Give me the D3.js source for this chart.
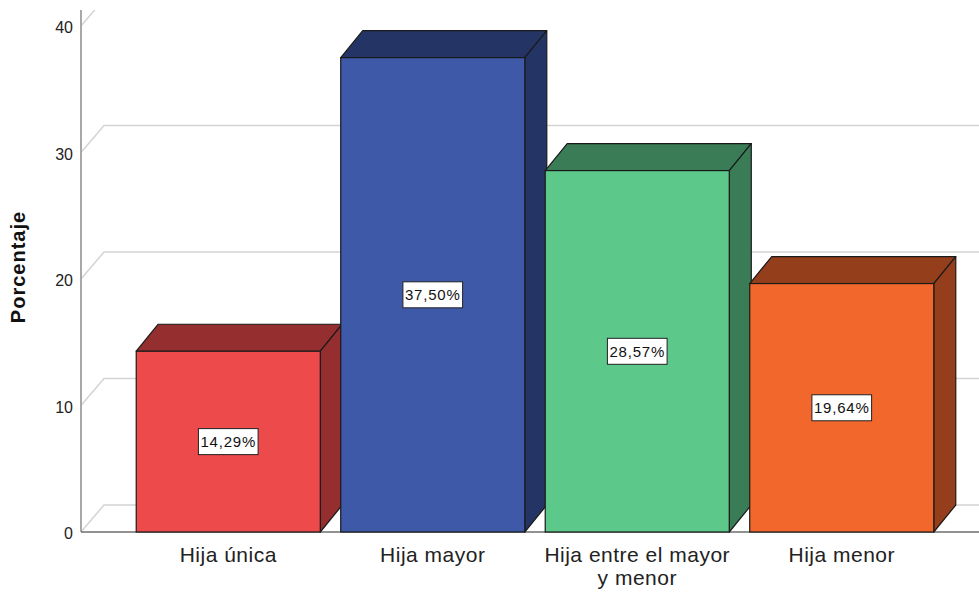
<!DOCTYPE html>
<html lang="es">
<head>
<meta charset="utf-8">
<title>Porcentaje por posición de hija</title>
<style>
  body { margin: 0; background: #fff; font-family: "Liberation Sans", Arial, sans-serif; }
  svg { display: block; }
</style>
</head>
<body>
<script src="https://d3js.org/d3.v7.min.js"></script>
<script>
// chart data
var categories = ["Hija única", "Hija mayor", "Hija entre el mayor y menor", "Hija menor"];
var labelLines = [["Hija única"], ["Hija mayor"], ["Hija entre el mayor", "y menor"], ["Hija menor"]];
var values = [14.29, 37.50, 28.57, 19.64];
var valueLabels = ["14,29%", "37,50%", "28,57%", "19,64%"];
var yTicks = [0, 10, 20, 30, 40];
var frontColors = ["#ec4a4b", "#3d59a7", "#5cc98b", "#f2672b"];
var sideColors = ["#942e2f", "#243565", "#397c55", "#953e1b"];

var w = 979, h = 593;
var axisX = 81, baseY = 532, topClip = 10;
var dx = 22, dy = -27; // depth offset of the 3D effect

var svg = d3.select("body").append("svg")
    .attr("width", w)
    .attr("height", h);

var x = d3.scaleBand()
    .domain(categories)
    .range([126, 944])
    .paddingInner(0.1)
    .paddingOuter(0.05);

var y = d3.scaleLinear()
    .domain([0, 40])
    .range([baseY, 26]);

svg.append("clipPath").attr("id", "plotClip")
  .append("rect")
    .attr("x", axisX).attr("y", topClip)
    .attr("width", w - axisX).attr("height", h);

// back wall grid lines with diagonal to the axis
var grid = svg.append("g").attr("clip-path", "url(#plotClip)");
grid.selectAll("path.grid")
  .data(yTicks)
  .enter().append("path")
    .attr("class", "grid")
    .attr("fill", "none")
    .attr("stroke", "#d4d4d4")
    .attr("stroke-width", 1.5)
    .attr("d", function(d) {
        var yy = y(d);
        return "M" + axisX + "," + yy + "L" + (axisX + dx + 1) + "," + (yy + dy) + "L" + w + "," + (yy + dy);
    });

// y axis line
svg.append("line")
    .attr("x1", axisX).attr("x2", axisX)
    .attr("y1", topClip).attr("y2", baseY)
    .attr("stroke", "#a8a8a8")
    .attr("stroke-width", 2);

// baseline
svg.append("line")
    .attr("x1", axisX).attr("x2", w)
    .attr("y1", baseY).attr("y2", baseY)
    .attr("stroke", "#6e6e6e")
    .attr("stroke-width", 1.5);

// y tick labels
svg.append("g").selectAll("text")
  .data(yTicks)
  .enter().append("text")
    .attr("x", 73)
    .attr("y", function(d) { return y(d) + 3; })
    .attr("text-anchor", "end")
    .attr("dominant-baseline", "middle")
    .attr("font-size", 16)
    .attr("fill", "#222")
    .text(function(d) { return d; });

// y axis title
svg.append("text")
    .attr("transform", "translate(25,267) rotate(-90)")
    .attr("text-anchor", "middle")
    .attr("font-size", 20)
    .attr("font-weight", "bold")
    .attr("letter-spacing", 1)
    .attr("fill", "#111")
    .text("Porcentaje");

// bars
var bars = svg.append("g").selectAll("g.bar")
  .data(values)
  .enter().append("g")
    .attr("class", "bar");

bars.append("path")  // top face
    .attr("fill", function(d, i) { return sideColors[i]; })
    .attr("stroke", "#1a1a1a")
    .attr("stroke-width", 1.2)
    .attr("stroke-linejoin", "round")
    .attr("d", function(d, i) {
        var x0 = x(categories[i]), x1 = x0 + x.bandwidth(), t = y(d);
        return "M" + x0 + "," + t + "L" + (x0 + dx) + "," + (t + dy) + "L" + (x1 + dx) + "," + (t + dy) + "L" + x1 + "," + t + "Z";
    });

bars.append("path")  // side face
    .attr("fill", function(d, i) { return sideColors[i]; })
    .attr("stroke", "#1a1a1a")
    .attr("stroke-width", 1.2)
    .attr("stroke-linejoin", "round")
    .attr("d", function(d, i) {
        var x1 = x(categories[i]) + x.bandwidth(), t = y(d), b = y(0);
        return "M" + x1 + "," + t + "L" + (x1 + dx) + "," + (t + dy) + "L" + (x1 + dx) + "," + (b + dy) + "L" + x1 + "," + b + "Z";
    });

bars.append("rect")  // front face
    .attr("x", function(d, i) { return x(categories[i]); })
    .attr("y", function(d) { return y(d); })
    .attr("width", x.bandwidth())
    .attr("height", function(d) { return y(0) - y(d); })
    .attr("fill", function(d, i) { return frontColors[i]; })
    .attr("stroke", "#1a1a1a")
    .attr("stroke-width", 1.2);

// value labels in white boxes
var lab = bars.append("g")
    .attr("transform", function(d, i) {
        return "translate(" + (x(categories[i]) + x.bandwidth() / 2) + "," + ((y(d) + y(0)) / 2) + ")";
    });

lab.append("text")
    .attr("text-anchor", "middle")
    .attr("dominant-baseline", "central")
    .attr("font-size", 15)
    .attr("letter-spacing", 0.8)
    .attr("fill", "#111")
    .text(function(d, i) { return valueLabels[i]; });

lab.each(function() {
    var g = d3.select(this);
    var bb = g.select("text").node().getBBox();
    g.insert("rect", "text")
        .attr("x", bb.x - 2)
        .attr("y", -13)
        .attr("width", bb.width + 4)
        .attr("height", 26)
        .attr("fill", "#fff")
        .attr("stroke", "#222")
        .attr("stroke-width", 1);
});

// x category labels
svg.append("g").selectAll("text")
  .data(labelLines)
  .enter().append("text")
    .attr("x", function(d, i) { return x(categories[i]) + x.bandwidth() / 2; })
    .attr("y", 562)
    .attr("text-anchor", "middle")
    .attr("font-size", 21)
    .attr("letter-spacing", 0.5)
    .attr("fill", "#222")
    .each(function(d) {
        var t = d3.select(this);
        d.forEach(function(line, k) {
            t.append("tspan")
                .attr("x", t.attr("x"))
                .attr("dy", k === 0 ? 0 : 23)
                .text(line);
        });
    });
</script>
</body>
</html>
